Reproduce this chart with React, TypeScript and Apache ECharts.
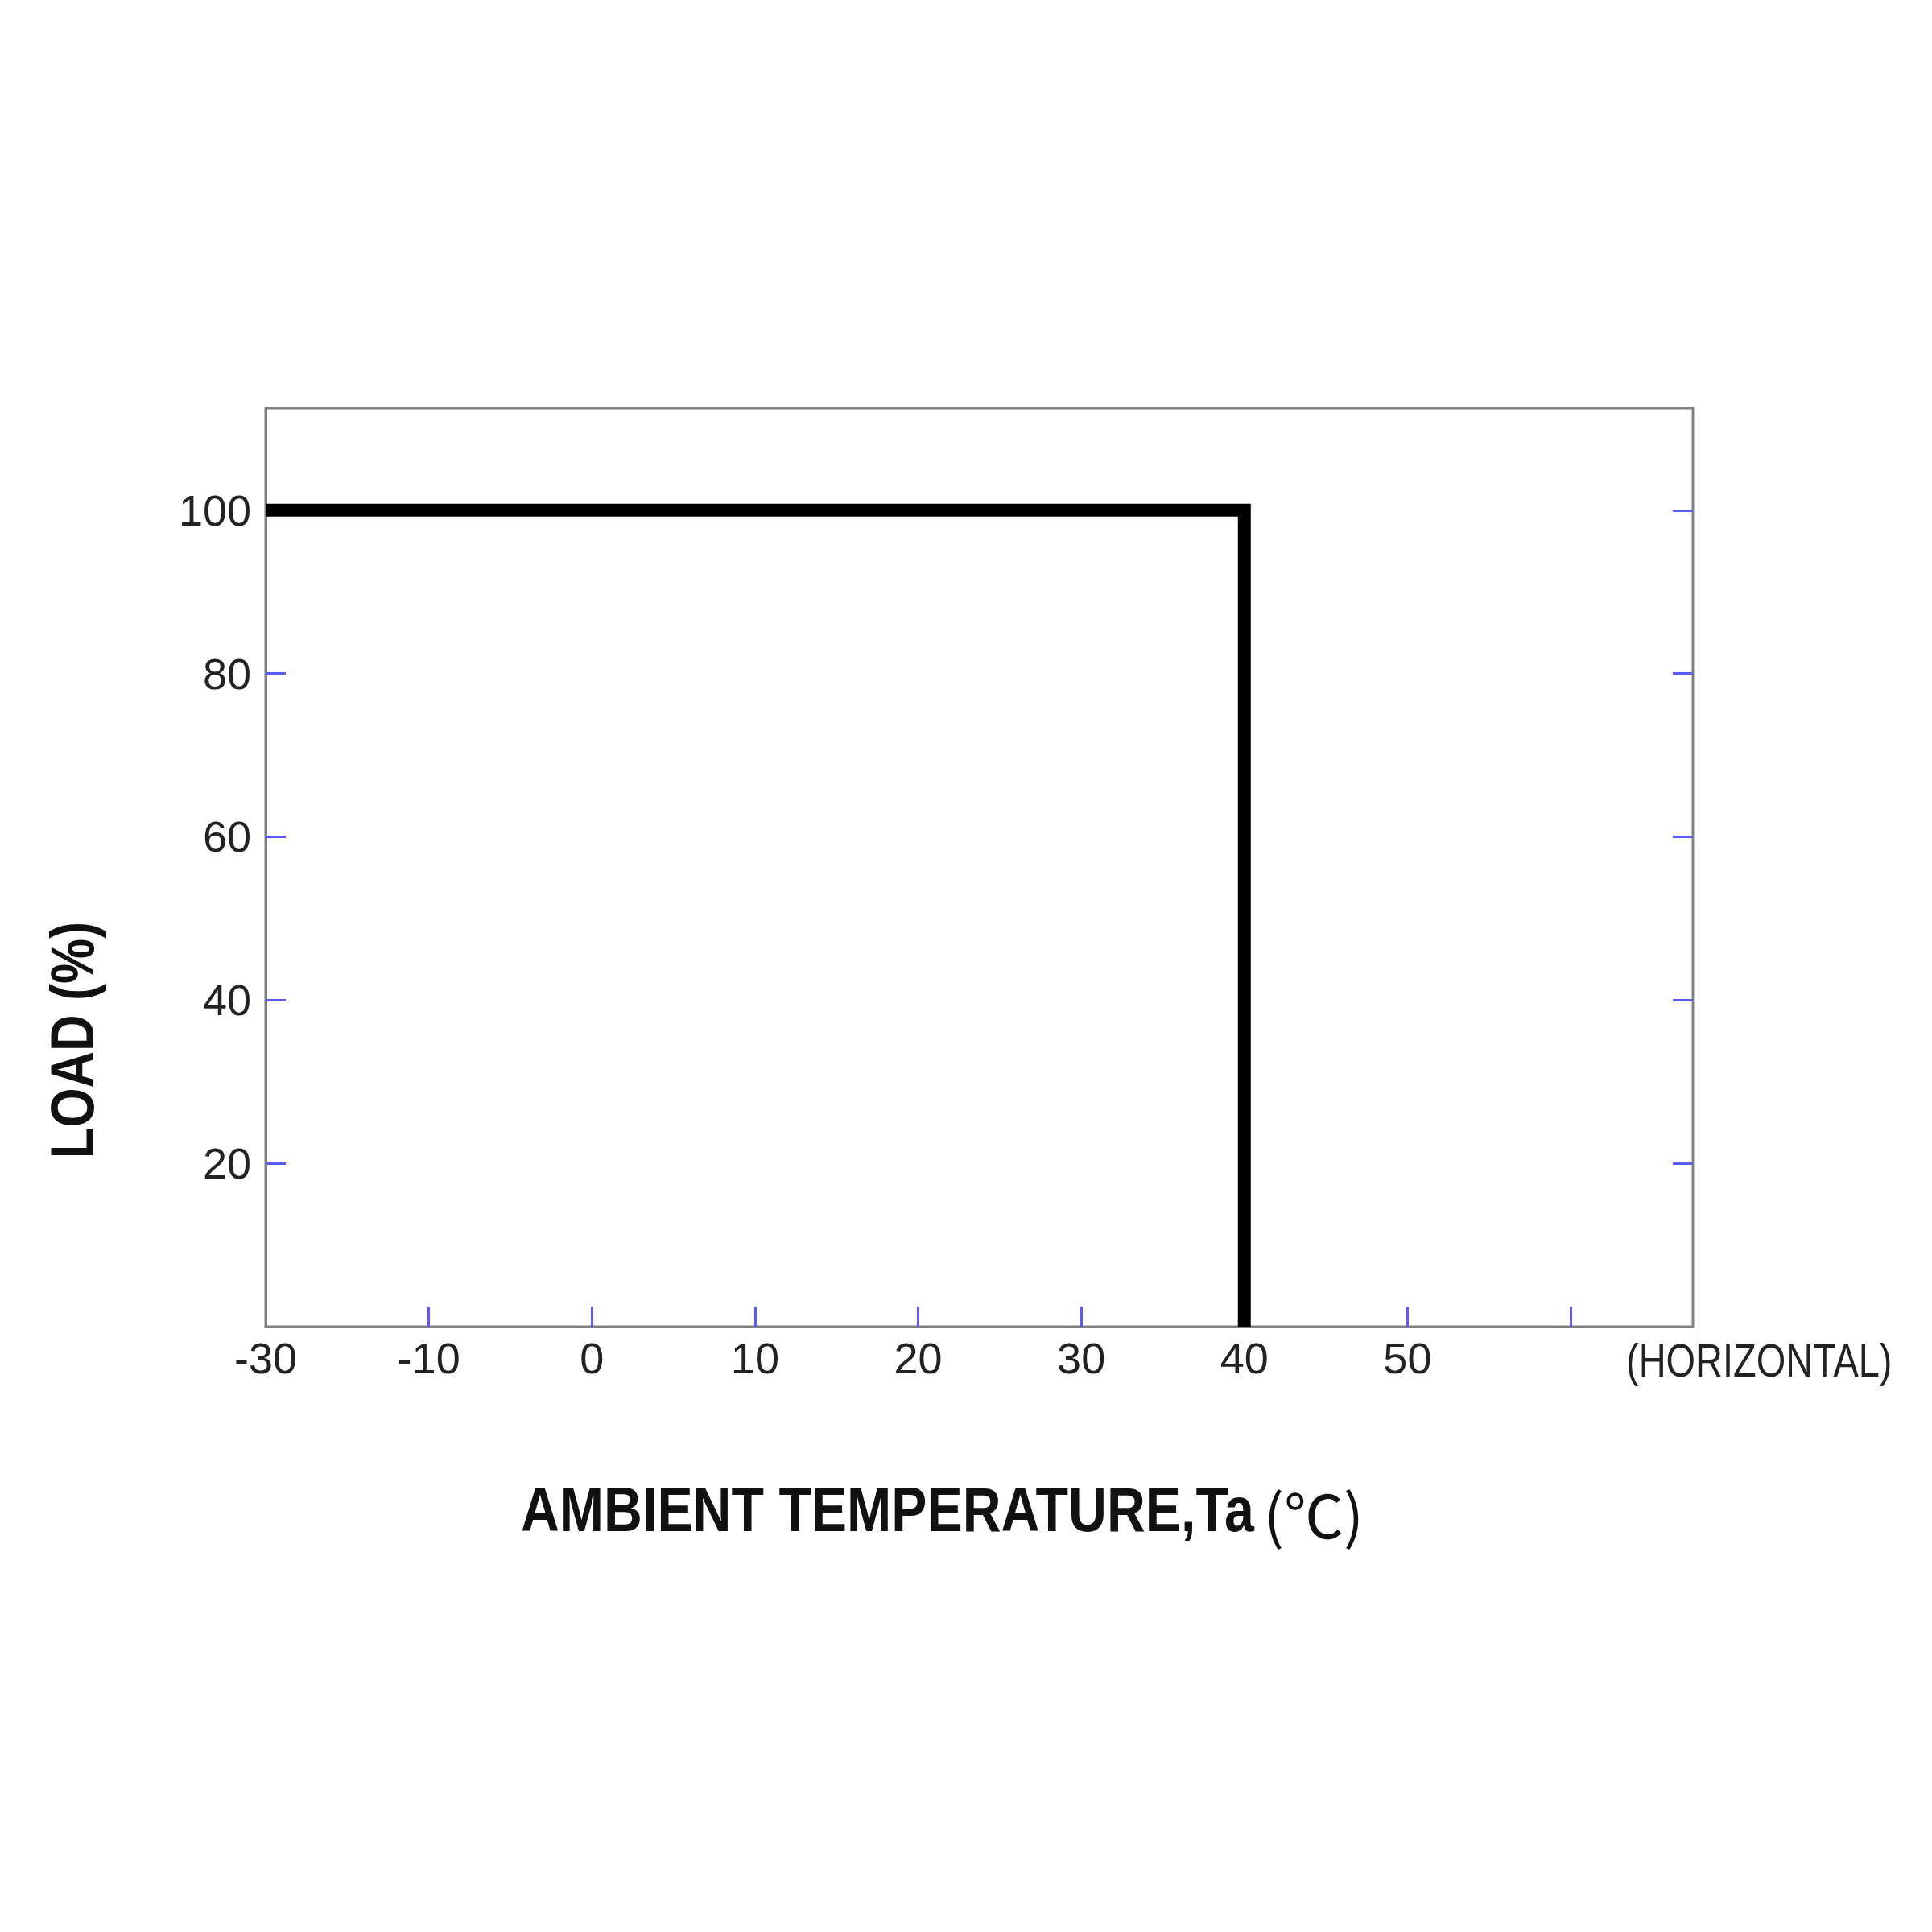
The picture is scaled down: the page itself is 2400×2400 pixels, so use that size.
import React, { useEffect, useRef } from "react";
import * as echarts from "echarts";

// Derating curve (temperature in °C, load in %)
const curveTemps = [-30, 40, 40];
const curveLoads = [100, 100, 0];

// X axis: the -30 label sits one step left of -10 (broken axis)
const xTickLabels = ["-30", "-10", "0", "10", "20", "30", "40", "50"];
const xTickMarks = [-10, 0, 10, 20, 30, 40, 50, 60];
const yTickValues = [20, 40, 60, 80, 100];

const xTitle = "AMBIENT TEMPERATURE,Ta";
const xTitleUnit = "(℃)";
const yTitle = "LOAD (%)";
const orientation = "(HORIZONTAL)";

// map a temperature to the axis position (segment -30..-10 occupies one step)
const toAxis = (t: number) => (t < -10 ? -10 + (t + 10) / 2 : t);
const xLabelPositions = xTickLabels.map((l) => toAxis(Number(l)));

const FONT = "'Liberation Sans Narrow', 'Liberation Sans', Arial, sans-serif";
const GRAY = "#808080";
const BLUE = "#5a5aff";

export default function App() {
  const ref = useRef<HTMLDivElement>(null);
  useEffect(() => {
    if (!ref.current) return;
    const chart = echarts.init(ref.current, null, { renderer: "svg" });
    const data = curveTemps.map((t, i) => [toAxis(t), curveLoads[i]]);
    chart.setOption({
      animation: false,
      backgroundColor: "#ffffff",
      grid: {
        left: 330,
        right: 297,
        top: 507,
        bottom: 752,
        show: true,
        borderColor: GRAY,
        borderWidth: 3,
        backgroundColor: "transparent",
      },
      xAxis: {
        type: "value",
        min: -20,
        max: 67.5,
        splitLine: { show: false },
        axisLine: { show: true, onZero: false, lineStyle: { color: GRAY, width: 3 } },
        axisTick: {
          show: true,
          inside: true,
          length: 25,
          customValues: xTickMarks,
          lineStyle: { color: BLUE, width: 3 },
        },
        axisLabel: {
          show: true,
          customValues: xLabelPositions,
          formatter: (v: number) => {
            const i = xLabelPositions.indexOf(v);
            return i >= 0 ? xTickLabels[i] : "";
          },
          fontFamily: FONT,
          fontSize: 54,
          color: "#222222",
          margin: 12,
        },
      },
      yAxis: [
        {
          type: "value",
          min: 0,
          max: 112.5,
          position: "left",
          splitLine: { show: false },
          axisLine: { show: true, onZero: false, lineStyle: { color: GRAY, width: 3 } },
          axisTick: {
            show: true,
            inside: true,
            length: 25,
            customValues: yTickValues,
            lineStyle: { color: BLUE, width: 3 },
          },
          axisLabel: {
            show: true,
            customValues: yTickValues,
            fontFamily: FONT,
            fontSize: 54,
            color: "#222222",
            margin: 18,
          },
        },
        {
          type: "value",
          min: 0,
          max: 112.5,
          position: "right",
          splitLine: { show: false },
          axisLine: { show: false, onZero: false },
          axisTick: {
            show: true,
            inside: true,
            length: 25,
            customValues: yTickValues,
            lineStyle: { color: BLUE, width: 3 },
          },
          axisLabel: { show: false },
        },
      ],
      series: [
        {
          type: "line",
          data,
          symbol: "none",
          clip: false,
          lineStyle: { color: "#000000", width: 16, join: "miter", cap: "butt" },
        },
      ],
      graphic: [
        {
          type: "text",
          x: 647,
          y: 1875,
          scaleX: 0.85,
          style: {
            text: xTitle,
            align: "left",
            verticalAlign: "middle",
            fontFamily: FONT,
            fontWeight: "bold",
            fontSize: 78,
            fill: "#111111",
          },
        },
        {
          type: "text",
          x: 1570,
          y: 1878,
          style: {
            text: xTitleUnit,
            align: "left",
            verticalAlign: "middle",
            fontFamily: "'Noto Sans CJK SC', sans-serif",
            fontWeight: "normal",
            fontSize: 74,
            fill: "#111111",
          },
        },
        {
          type: "text",
          x: 90,
          y: 1292,
          rotation: Math.PI / 2,
          scaleX: 0.83,
          style: {
            text: yTitle,
            align: "center",
            verticalAlign: "middle",
            fontFamily: FONT,
            fontWeight: "bold",
            fontSize: 76,
            fill: "#111111",
          },
        },
        {
          type: "text",
          x: 2020,
          y: 1690,
          scaleX: 0.81,
          style: {
            text: orientation,
            align: "left",
            verticalAlign: "middle",
            fontFamily: FONT,
            fontSize: 58,
            fill: "#222222",
          },
        },
      ],
    });
    return () => chart.dispose();
  }, []);
  return (
    <div
      ref={ref}
      style={{ position: "absolute", left: 0, top: 0, width: 2400, height: 2400 }}
    />
  );
}
